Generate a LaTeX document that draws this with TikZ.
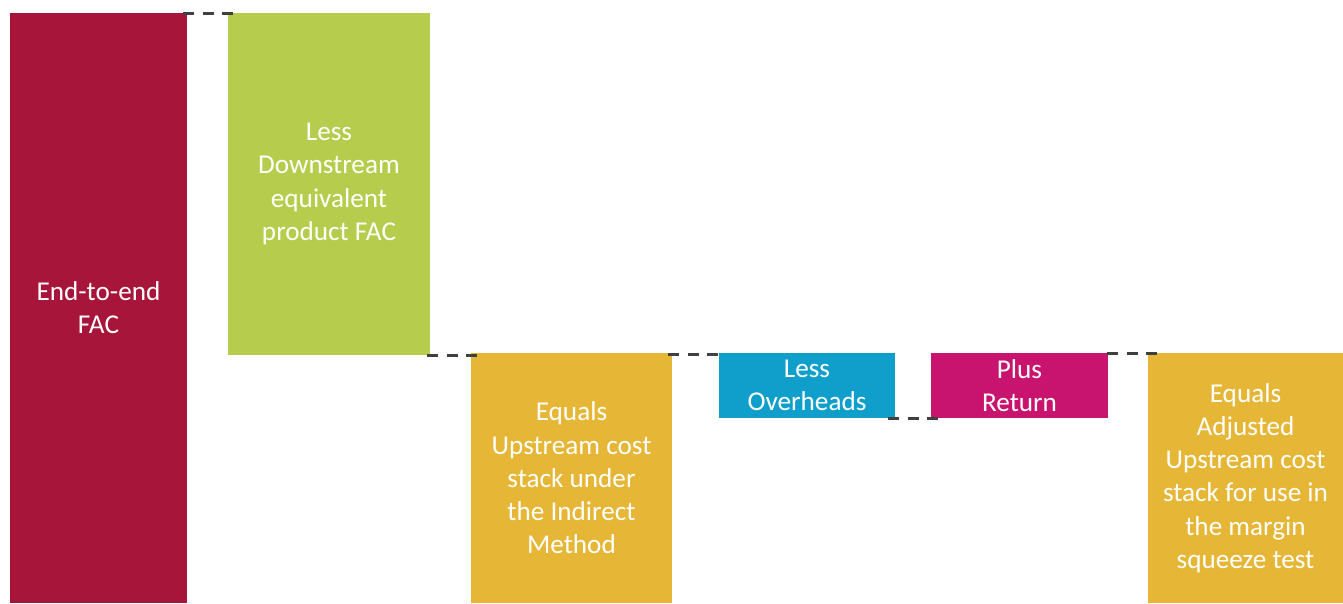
\documentclass[tikz,border=0pt]{standalone}
\usepackage{fontspec}
\setmainfont{Carlito}
\usetikzlibrary{calc}
\definecolor{facred}{RGB}{168,21,58}
\definecolor{downgreen}{RGB}{182,204,76}
\definecolor{upgold}{RGB}{230,182,55}
\definecolor{ohblue}{RGB}{16,159,203}
\definecolor{retpink}{RGB}{200,20,110}
\definecolor{linkgray}{RGB}{64,64,64}
\tikzset{
  bar/.style={anchor=north west,inner sep=0pt,outer sep=0pt,align=center,text=white,
    font=\fontsize{27.2}{33.2}\selectfont},
  link/.style={draw=linkgray,line width=3pt,dash pattern=on 11pt off 8.5pt}
}

\begin{document}
\begin{tikzpicture}[x=1pt,y=1pt]
            \useasboundingbox (0,0) rectangle (1343,-603);

            % the bars of the cost stack
            \node[bar,fill=facred,minimum width=177pt,minimum height=590pt] (fac) at (10,-13) {End-to-end\\FAC};
            \node[bar,fill=downgreen,minimum width=202pt,minimum height=342pt] (down) at (228,-13) {Less\\Downstream\\equivalent\\product FAC};
            \node[bar,fill=upgold,minimum width=201pt,minimum height=250pt] (upstream) at (471,-353) {Equals\\Upstream cost\\stack under\\the Indirect\\Method};
            \node[bar,fill=ohblue,minimum width=176pt,minimum height=65pt] (overheads) at (719,-353) {Less\\Overheads};
            \node[bar,fill=retpink,minimum width=177pt,minimum height=65pt] (return) at (931,-353) {Plus\\Return};
            \node[bar,fill=upgold,minimum width=195pt,minimum height=250pt] (adjusted) at (1148,-353) {Equals\\Adjusted\\Upstream cost\\stack for use in\\the margin\\squeeze test};

            % dashed steps between the bars
            \draw[link] ($(fac.north east)+(-4,0)$) -- ($(down.north west)+(6,0)$);
            \draw[link] ($(down.south east)+(-3,0)$) -- ($(down.south east -| upstream.west)+(8,0)$);
            \draw[link] ($(upstream.north east)+(-4,-1)$) -- ($(overheads.north west)+(2,-1)$);
            \draw[link] ($(overheads.south east)+(-7,0)$) -- ($(return.south west)+(9,0)$);
            \draw[link] ($(return.north east)+(-1,0)$) -- ($(adjusted.north west)+(9,0)$);
        \end{tikzpicture}
\end{document}
